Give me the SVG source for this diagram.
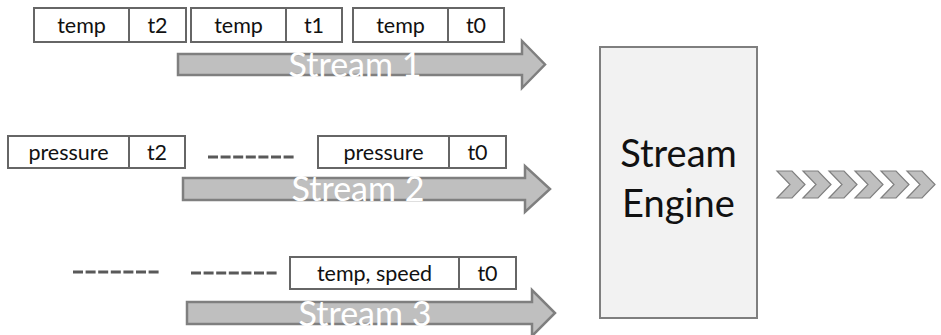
<svg xmlns="http://www.w3.org/2000/svg" width="941" height="335" viewBox="0 0 941 335">
  <style>
    .cell { fill: #ffffff; stroke: #666666; stroke-width: 2; }
    .div { stroke: #666666; stroke-width: 2; }
    .lbl { font-family: Lato, "Open Sans", "Liberation Sans", sans-serif; font-size: 21.5px; fill: #111111; text-anchor: middle; }
    .flow { fill: #bfbfbf; stroke: #7f7f7f; stroke-width: 2.5; stroke-linejoin: miter; }
    .flowtxt { font-family: Lato, "Open Sans", "Liberation Sans", sans-serif; font-size: 34px; fill: #ffffff; text-anchor: middle; }
    .gap { stroke: #595959; stroke-width: 3; stroke-dasharray: 10 2.6; fill: none; }
    .chev { fill: #bfbfbf; stroke: #7f7f7f; stroke-width: 1.2; stroke-linejoin: miter; }
    .engine { fill: #f2f2f2; stroke: #7f7f7f; stroke-width: 2; }
    .engtxt { font-family: Lato, "Open Sans", "Liberation Sans", sans-serif; font-size: 38px; fill: #111111; text-anchor: middle; }
  </style>

  <defs>
    <!-- one chevron of the output band, origin at its top-left corner -->
    <polygon id="chevron" class="chev" points="0,0 15,0 28,13.5 15,27 0,27 13,13.5"/>
  </defs>

  <!-- stream arrows, elision dashes and output chevrons -->
  <g id="connectors">
    <g id="stream1">
      <path class="flow" d="M178,54 H522 V41 L545,64.5 L522,88 V75 H178 Z"/>
      <text class="flowtxt" x="355" y="77">Stream 1</text>
    </g>
    <g id="stream2">
      <path class="flow" d="M183,178 H525 V166 L550,189 L525,212 V200 H183 Z"/>
      <text class="flowtxt" x="358" y="201">Stream 2</text>
    </g>
    <g id="stream3">
      <path class="flow" d="M187,302 H532 V290 L555,313 L532,336 V324 H187 Z"/>
      <text class="flowtxt" x="365" y="326">Stream 3</text>
    </g>
    <line class="gap" x1="208" y1="157" x2="294" y2="157"/>
    <line class="gap" x1="73" y1="272" x2="159" y2="272"/>
    <line class="gap" x1="191" y1="273" x2="277" y2="273"/>
    <g id="output">
      <use href="#chevron" x="777" y="171"/>
      <use href="#chevron" x="803" y="171"/>
      <use href="#chevron" x="829" y="171"/>
      <use href="#chevron" x="855" y="171"/>
      <use href="#chevron" x="881" y="171"/>
      <use href="#chevron" x="907" y="171"/>
    </g>
  </g>

  <!-- stream 1 tuples -->
  <g id="s1-t2">
    <rect class="cell" x="34" y="8" width="152" height="34"/>
    <line class="div" x1="129" y1="8" x2="129" y2="42"/>
    <text class="lbl" x="81.5" y="32.5">temp</text>
    <text class="lbl" x="157.5" y="32.5">t2</text>
  </g>
  <g id="s1-t1">
    <rect class="cell" x="191" y="8" width="151" height="34"/>
    <line class="div" x1="286" y1="8" x2="286" y2="42"/>
    <text class="lbl" x="238.5" y="32.5">temp</text>
    <text class="lbl" x="314" y="32.5">t1</text>
  </g>
  <g id="s1-t0">
    <rect class="cell" x="353" y="8" width="151" height="34"/>
    <line class="div" x1="448" y1="8" x2="448" y2="42"/>
    <text class="lbl" x="400.5" y="32.5">temp</text>
    <text class="lbl" x="476" y="32.5">t0</text>
  </g>

  <!-- stream 2 tuples -->
  <g id="s2-t2">
    <rect class="cell" x="8" y="136" width="177" height="32"/>
    <line class="div" x1="129" y1="136" x2="129" y2="168"/>
    <text class="lbl" x="68.5" y="159.5">pressure</text>
    <text class="lbl" x="157" y="159.5">t2</text>
  </g>
  <g id="s2-t0">
    <rect class="cell" x="318" y="136" width="188" height="32"/>
    <line class="div" x1="449" y1="136" x2="449" y2="168"/>
    <text class="lbl" x="383.5" y="159.5">pressure</text>
    <text class="lbl" x="477.5" y="159.5">t0</text>
  </g>

  <!-- stream 3 tuple -->
  <g id="s3-t0">
    <rect class="cell" x="290" y="257" width="226" height="32"/>
    <line class="div" x1="459" y1="257" x2="459" y2="289"/>
    <text class="lbl" x="374.5" y="280.5">temp, speed</text>
    <text class="lbl" x="487.5" y="280.5">t0</text>
  </g>

  <!-- processing engine -->
  <g id="stream-engine">
    <rect class="engine" x="600" y="47" width="157" height="271"/>
    <text class="engtxt" x="678.5" y="167">Stream</text>
    <text class="engtxt" x="678.5" y="217">Engine</text>
  </g>
</svg>
